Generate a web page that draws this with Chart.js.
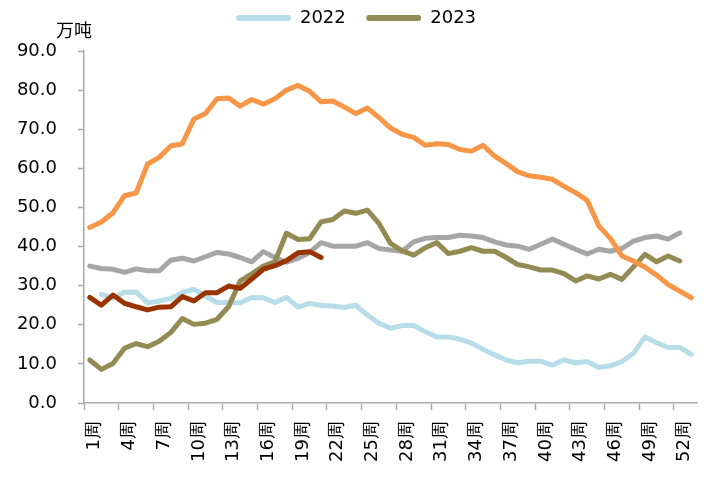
<!DOCTYPE html>
<html>
<head>
<meta charset="utf-8">
<script src="https://cdn.jsdelivr.net/npm/chart.js@4.4.1/dist/chart.umd.min.js"></script>
<style>
  html, body { margin: 0; padding: 0; background: #fff; }
  #wrap { width: 724px; height: 478px; }
</style>
</head>
<body>
<div id="wrap"><canvas id="chart" width="724" height="478"></canvas></div>
<script>
// weeks 1..53
const weeks = Array.from({ length: 53 }, (_, i) => (i + 1) + '周');

const v2020 = [44.9, 46.3, 48.6, 53.0, 53.7, 61.1, 62.8, 65.7, 66.3, 72.6, 74.0, 77.8, 78.0, 75.9, 77.6, 76.4, 77.8, 80.0, 81.2, 79.7,
  77.0, 77.2, 75.7, 74.0, 75.4, 73.0, 70.3, 68.7, 67.9, 65.9, 66.3, 66.1, 64.8, 64.4, 65.9, 63.1, 61.2, 59.1, 58.1, 57.7,
  57.2, 55.4, 53.8, 51.8, 45.3, 42.1, 37.6, 36.3, 34.7, 32.7, 30.3, 28.6, 26.9];
const v2021 = [35.0, 34.4, 34.2, 33.4, 34.3, 33.8, 33.8, 36.5, 37.0, 36.3, 37.4, 38.5, 38.1, 37.2, 36.1, 38.7, 37.2, 36.0, 37.0, 38.5,
  41.0, 40.1, 40.1, 40.1, 41.0, 39.5, 39.1, 38.8, 41.2, 42.1, 42.3, 42.3, 42.9, 42.7, 42.3, 41.2, 40.4, 40.1, 39.3, 40.6,
  41.9, 40.6, 39.3, 38.1, 39.3, 38.8, 39.5, 41.4, 42.3, 42.7, 41.9, 43.5, null];
const v2022 = [null, 27.8, 26.7, 28.3, 28.4, 25.6, 26.1, 26.7, 28.2, 29.1, 27.3, 25.7, 25.7, 25.6, 27.0, 26.9, 25.7, 27.0, 24.5, 25.5,
  24.9, 24.8, 24.4, 25.0, 22.5, 20.4, 19.1, 19.8, 19.8, 18.2, 16.9, 16.9, 16.3, 15.3, 13.7, 12.3, 11.0, 10.3, 10.7, 10.7,
  9.7, 11.0, 10.3, 10.6, 9.1, 9.5, 10.6, 12.7, 16.9, 15.4, 14.2, 14.2, 12.4];
const v2023 = [11.0, 8.6, 10.1, 14.0, 15.2, 14.4, 15.8, 18.0, 21.6, 20.1, 20.4, 21.4, 24.6, 31.2, 33.0, 35.0, 36.1, 43.4, 41.8, 42.0,
  46.3, 46.9, 49.1, 48.5, 49.3, 45.9, 40.8, 38.9, 37.8, 39.7, 41.0, 38.2, 38.8, 39.7, 38.8, 38.8, 37.2, 35.4, 34.8, 34.0,
  34.0, 33.1, 31.2, 32.5, 31.7, 32.9, 31.6, 34.8, 38.0, 36.1, 37.6, 36.3, null];
const v2024 = [27.0, 25.0, 27.6, 25.5, 24.6, 23.8, 24.5, 24.6, 27.2, 26.1, 28.2, 28.2, 29.9, 29.3, 31.7, 34.2, 35.1, 36.4, 38.4, 38.7,
  37.2];

const legendShown = ['2022', '2023'];
const FONT = 'DejaVu Sans';

function line(label, data, color, order) {
  return {
    label, data, order,
    borderColor: color, backgroundColor: color,
    borderWidth: 5, pointRadius: 0, tension: 0,
    borderCapStyle: 'round', borderJoinStyle: 'round'
  };
}

// extra gap under the legend
const legendGap = {
  id: 'legendGap',
  beforeUpdate(chart) {
    const lg = chart.legend;
    if (lg && !lg._gapPatched) {
      const fit = lg.fit;
      lg.fit = function () { fit.call(this); this.height += 14; };
      lg._gapPatched = true;
    }
  }
};

// unit label above the y axis
const unitLabel = {
  id: 'unitLabel',
  afterDraw(chart) {
    const ctx = chart.ctx;
    ctx.save();
    ctx.font = '18px "Noto Sans CJK SC"';
    ctx.fillStyle = '#000';
    ctx.textAlign = 'center';
    ctx.textBaseline = 'middle';
    ctx.fillText('万吨', chart.chartArea.left - 10, 30);
    ctx.restore();
  }
};

new Chart(document.getElementById('chart'), {
  type: 'line',
  data: {
    labels: weeks,
    datasets: [
      line('2020', v2020, '#F79646', 1),
      line('2021', v2021, '#A6A6A6', 3),
      line('2022', v2022, '#B7DEE8', 4),
      line('2023', v2023, '#948A54', 2),
      line('2024', v2024, '#993300', 0)
    ]
  },
  options: {
    responsive: false,
    animation: false,
    layout: { padding: { top: 0, right: 12, bottom: 0, left: 0 } },
    plugins: {
      tooltip: { enabled: false },
      legend: {
        position: 'top',
        labels: {
          color: '#000',
          font: { family: FONT, size: 18 },
          boxWidth: 55,
          boxHeight: 6,
          padding: 9,
          useBorderRadius: true,
          borderRadius: 3,
          sort: (a, b) => a.text.localeCompare(b.text),
          generateLabels(chart) {
            return Chart.defaults.plugins.legend.labels.generateLabels(chart)
              .filter(it => legendShown.includes(it.text))
              .map(it => Object.assign(it, { lineWidth: 0, text: it.text === '2022' ? '2022  ' : it.text }));
          }
        }
      }
    },
    scales: {
      x: {
        offset: true,
        afterFit: s => { s.height = 75; },
        border: { color: '#ABABAB', width: 1.5 },
        grid: {
          offset: true,
          drawOnChartArea: false,
          tickLength: 7,
          tickWidth: 1.5,
          tickColor: c => (c.index % 3 === 0 ? '#ABABAB' : 'rgba(0,0,0,0)')
        },
        ticks: {
          autoSkip: false,
          maxRotation: 90,
          minRotation: 90,
          padding: 11,
          labelOffset: 5,
          color: '#000',
          font: { family: FONT, size: 18 },
          callback: (v, i) => (i % 3 === 0 ? weeks[i] : '')
        }
      },
      y: {
        min: 0,
        max: 90,
        afterFit: s => { s.width = 84; },
        border: { color: '#ABABAB', width: 1.5 },
        grid: { drawOnChartArea: false, tickLength: 6, tickWidth: 1.5, color: '#ABABAB' },
        ticks: {
          stepSize: 10,
          padding: 21,
          color: '#000',
          font: { family: FONT, size: 18 },
          callback: v => v.toFixed(1)
        }
      }
    }
  },
  plugins: [legendGap, unitLabel]
});
</script>
</body>
</html>
